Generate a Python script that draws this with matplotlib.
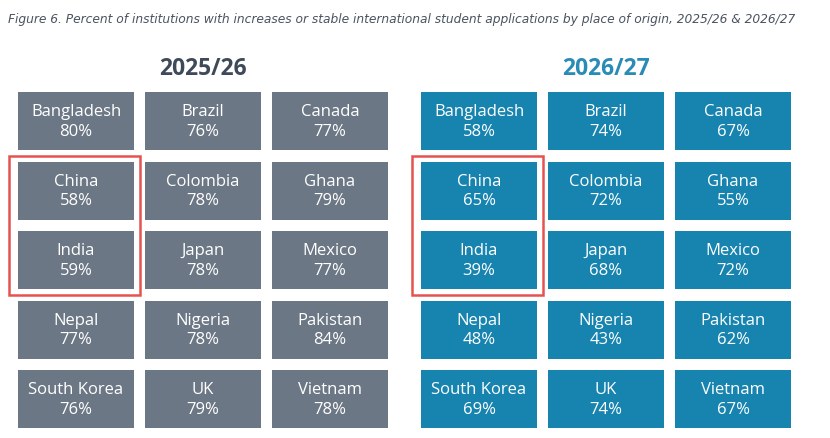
import matplotlib.pyplot as plt
from matplotlib.patches import Rectangle

countries = ['Bangladesh', 'Brazil', 'Canada',
             'China', 'Colombia', 'Ghana',
             'India', 'Japan', 'Mexico',
             'Nepal', 'Nigeria', 'Pakistan',
             'South Korea', 'UK', 'Vietnam']
pct_2025 = [80, 76, 77, 58, 78, 79, 59, 78, 77, 77, 78, 84, 76, 79, 78]
pct_2026 = [58, 74, 67, 65, 72, 55, 39, 68, 72, 48, 43, 62, 69, 74, 67]
highlight = ['China', 'India']

title = ('Figure 6. Percent of institutions with increases or stable international '
         'student applications by place of origin, 2025/26 & 2026/27')

grey = '#6c7785'
blue = '#1784b0'
red = '#e5524f'

fig = plt.figure(figsize=(8.3, 4.39), dpi=100)
ax = fig.add_axes([0, 0, 1, 1])
ax.set_xlim(0, 830)
ax.set_ylim(439, 0)
ax.axis('off')

t = fig.text(8 / 830, 1 - 20 / 439, title, ha='left', va='center', fontsize=10,
             style='italic', color='#4a5460', family='DejaVu Sans')
# shrink the title until it fits the width of the reference
renderer = fig.canvas.get_renderer()
while t.get_window_extent(renderer).width > 797:
    t.set_fontsize(t.get_fontsize() - 0.1)

panels = [
    ('2025/26', pct_2025, grey, '#3e4a59', 18),
    ('2026/27', pct_2026, blue, '#2a8cb6', 421),
]
tile_w, tile_h = 116, 58
col_step, row_step = 127, 69.5
top = 93

for head, vals, face, head_col, x0 in panels:
    ax.text(x0 + col_step + tile_w / 2, 69, head, ha='center', va='center',
            fontsize=16.5, fontweight='bold', color=head_col, family='Open Sans')
    for i, (name, v) in enumerate(zip(countries, vals)):
        r, c = divmod(i, 3)
        x = x0 + c * col_step
        y = top + r * row_step
        ax.add_patch(Rectangle((x, y), tile_w, tile_h, facecolor=face,
                               edgecolor='none'))
        ax.text(x + tile_w / 2, y + tile_h / 2, f'{name}\n{v}%', ha='center',
                va='center', fontsize=12, color='white', family='Open Sans',
                linespacing=1.3)
    # red outline around highlighted tiles
    rows = [countries.index(h) // 3 for h in highlight]
    ry0 = top + min(rows) * row_step - 6
    ry1 = top + max(rows) * row_step + tile_h + 6
    ax.add_patch(Rectangle((x0 - 9, ry0), tile_w + 15, ry1 - ry0,
                           facecolor='none', edgecolor=red, linewidth=1.8))

fig.savefig('out.png', dpi=100)
